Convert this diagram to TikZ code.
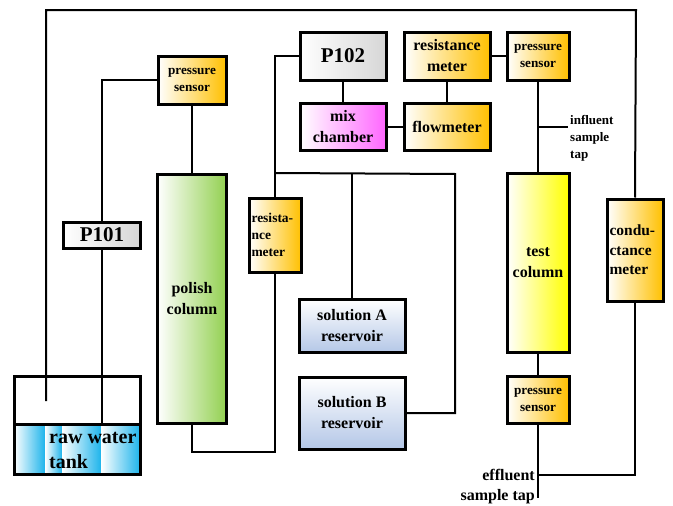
\documentclass[tikz,border=0pt]{standalone}
\usepackage{fontspec}
\setmainfont{Liberation Serif}
\usetikzlibrary{positioning,calc}
\definecolor{meteroran}{RGB}{255,192,0}
\definecolor{polishgreen}{RGB}{146,208,80}
\definecolor{testyellow}{RGB}{255,255,0}
\definecolor{mixpink}{RGB}{255,102,255}
\definecolor{pumpgray}{RGB}{214,214,214}
\definecolor{solblue}{RGB}{180,199,231}
\definecolor{waterblue}{RGB}{30,180,235}
\tikzset{
    unit/.style={
        rectangle,
        draw=black,
        line width=3pt,
        inner sep=1pt,
        align=center,
        font=\fontsize{16}{21}\selectfont\bfseries
    },
    sensorunit/.style={unit, left color=white, right color=meteroran,
        font=\fontsize{13.2}{17}\selectfont\bfseries},
    meterunit/.style={unit, left color=white, right color=meteroran},
    pumpunit/.style={unit, left color=white, right color=pumpgray,
        font=\fontsize{21}{24}\selectfont\bfseries},
    mixunit/.style={unit, left color=white, right color=mixpink},
    polishunit/.style={unit, left color=white, right color=polishgreen},
    testunit/.style={unit, left color=white, right color=testyellow},
    solunit/.style={unit, top color=white, bottom color=solblue},
    tankunit/.style={unit, inner sep=0pt},
    pipe/.style={line width=2pt},
    note/.style={inner sep=1pt, font=\fontsize{16}{21}\selectfont\bfseries}
}
\begin{document}
\begin{tikzpicture}[x=1pt,y=-1pt]
    \useasboundingbox (0,0) rectangle (673,506);

    % Raw water tank
    \shade[left color=white, right color=waterblue] (14,424) rectangle (45,474);
    \shade[left color=white, right color=waterblue] (45,424) rectangle (62,474);
    \shade[left color=white, right color=waterblue] (62,424) rectangle (101,474);
    \shade[left color=white, right color=waterblue] (101,424) rectangle (140,474);
    \node[tankunit, minimum width=126, minimum height=98] (tank) at (77,425) {};
    \node[tankunit, minimum width=126, minimum height=50] (water) at (77,449) {};
    \node[note, anchor=west, align=left, font=\fontsize{20}{25}\selectfont\bfseries]
          (tanklabel) at (48,450) {raw water\\tank};

    % Polish loop
    \node[pumpunit, minimum width=77, minimum height=26] (p101) at (102,235) {P101};
    \node[sensorunit, minimum width=68, minimum height=48] (ps1) at (192,80)
          {pressure\\sensor};
    \node[polishunit, minimum width=69, minimum height=249] (polish) at (192,299)
          {polish\\column};
    \node[meterunit, minimum width=52, minimum height=74, text width=47, align=left,
          font=\fontsize{13.5}{17}\selectfont\bfseries] (rm1) at (275,235)
          {resista-\\nce\\meter};

    % Solutions and mixing
    \node[pumpunit, minimum width=86, minimum height=48] (p102) at (343,56) {P102};
    \node[mixunit, minimum width=86, minimum height=47] (mix) at (343,127)
          {mix\\chamber};
    \node[meterunit, minimum width=86, minimum height=48] (rm2) at (447,56)
          {resistance\\meter};
    \node[meterunit, minimum width=86, minimum height=47] (flow) at (447,127)
          {flowmeter};
    \node[solunit, minimum width=106, minimum height=53] (solA) at (352,326)
          {solution A\\reservoir};
    \node[solunit, minimum width=106, minimum height=72] (solB) at (352,413)
          {solution B\\reservoir};

    % Test section
    \node[sensorunit, minimum width=62, minimum height=48] (ps2) at (538,56)
          {pressure\\sensor};
    \node[testunit, minimum width=62, minimum height=179] (test) at (538,263)
          {test\\column};
    \node[sensorunit, minimum width=62, minimum height=47] (ps3) at (538,400)
          {pressure\\sensor};
    \node[meterunit, minimum width=56, minimum height=102, text width=51, align=left,
          font=\fontsize{15.5}{19.5}\selectfont\bfseries] (cond) at (635,250)
          {condu-\\ctance\\meter};

    % Pipes
    \coordinate (tankin) at (46,401);
    \coordinate (loopcorner) at (636,10);
    \draw[pipe] (tankin) |- (loopcorner) -- (cond.north);
    \draw[pipe] (p101.south) -- (p101.south |- water.north);
    \draw[pipe] (p101.north) |- (ps1.west);
    \draw[pipe] (ps1.south) -- (polish.north);
    \draw[pipe] (polish.south) -- ++(0,27) -| (rm1.south);
    \draw[pipe] (rm1.north) |- (p102.west);
    \coordinate (split) at (rm1.north |- polish.north);
    \coordinate (splitend) at (455,174);
    \draw[pipe] (split) -- (splitend) |- (solB.east);
    \draw[pipe] (solA.north) -- (solA.north |- split);
    \draw[pipe] (p102.south) -- (mix.north);
    \draw[pipe] (mix.east) -- (flow.west);
    \draw[pipe] (rm2.south) -- (flow.north);
    \draw[pipe] (rm2.east) -- (ps2.west);
    \draw[pipe] (ps2.south) -- (test.north);
    \coordinate (intap) at (568,127);
    \draw[pipe] (intap -| test.north) -- (intap);
    \draw[pipe] (test.south) -- (ps3.north);
    \coordinate (outend) at (538,498);
    \draw[pipe] (ps3.south) -- (outend);
    \coordinate (outtap) at (538,475);
    \draw[pipe] (outtap) -| (cond.south);

    % Sample taps
    \node[note, anchor=north west, align=left, font=\fontsize{13}{17}\selectfont\bfseries]
          (influent) at (569,114) {influent\\sample\\tap};
    \node[note, anchor=east] (effluent) at (536,475) {effluent};
    \node[note, anchor=east] (sampletap) at (536,497) {sample tap};
\end{tikzpicture}
\end{document}
